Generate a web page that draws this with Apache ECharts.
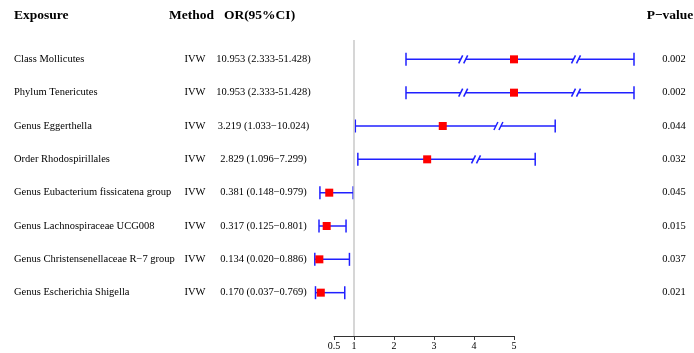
<!DOCTYPE html>
<html>
<head>
<meta charset="utf-8">
<script src="https://cdn.jsdelivr.net/npm/echarts@6/dist/echarts.min.js"></script>
<style>
  html, body { margin: 0; padding: 0; background: #fff; }
  #chart { width: 694px; height: 353px; }
</style>
</head>
<body>
<div id="chart"></div>
<script>
// 表格内容
const exposures = [
  'Class Mollicutes',
  'Phylum Tenericutes',
  'Genus Eggerthella',
  'Order Rhodospirillales',
  'Genus Eubacterium fissicatena group',
  'Genus Lachnospiraceae UCG008',
  'Genus Christensenellaceae R\u22127 group',
  'Genus Escherichia Shigella'
]
const methods = ['IVW', 'IVW', 'IVW', 'IVW', 'IVW', 'IVW', 'IVW', 'IVW']
const orLabels = [
  '10.953 (2.333-51.428)',
  '10.953 (2.333-51.428)',
  '3.219 (1.033\u221210.024)',
  '2.829 (1.096\u22127.299)',
  '0.381 (0.148\u22120.979)',
  '0.317 (0.125\u22120.801)',
  '0.134 (0.020\u22120.886)',
  '0.170 (0.037\u22120.769)'
]
const pValues = ['0.002', '0.002', '0.044', '0.032', '0.045', '0.015', '0.037', '0.021']

// 图上位置（截断轴，大值被压缩）
const orPlot = [5, 5, 3.219, 2.829, 0.381, 0.317, 0.134, 0.170]
const lowerPlot = [2.3, 2.3, 1.033, 1.096, 0.148, 0.125, 0.020, 0.037]
const upperPlot = [8.0, 8.0, 6.03, 5.53, 0.979, 0.801, 0.886, 0.769]
const breakPlot = [[3.73, 6.55], [3.73, 6.55], [4.61], [4.05], [], [], [], []]
const tickValues = [0.5, 1, 2, 3, 4, 5]

const headers = ['Exposure', 'Method', 'OR(95%CI)', 'P\u2212value']

const FONT = '"Liberation Serif", "Times New Roman", serif'
const rows = exposures.map((_, i) => i + 1)

const chart = echarts.init(document.getElementById('chart'))

const yRange = { min: -0.78, max: 9.3 }

// 文字列：x 为表格坐标
const textColumns = [
  { x: 14, align: 'left', values: exposures },
  { x: 195, align: 'center', values: methods },
  { x: 263.5, align: 'center', values: orLabels },
  { x: 674, align: 'center', values: pValues }
]
const headerCols = [
  { x: 14, align: 'left' },
  { x: 191.5, align: 'center' },
  { x: 259.5, align: 'center' },
  { x: 670, align: 'center' }
]

const textData = []
textColumns.forEach(col => {
  col.values.forEach((v, i) => {
    textData.push({ value: [col.x, rows[i]], text: v, align: col.align, bold: false })
  })
})
headers.forEach((h, i) => {
  textData.push({ value: [headerCols[i].x, -0.3], text: h, align: headerCols[i].align, bold: true })
})

const ciData = rows.map((r, i) => [r, lowerPlot[i], orPlot[i], upperPlot[i]])

const option = {
  animation: false,
  grid: [
    { left: 334, right: 180, top: 0, bottom: 17 },
    { left: 0, right: 0, top: 0, bottom: 17 }
  ],
  xAxis: [
    {
      gridIndex: 0,
      type: 'value',
      min: 0.5,
      max: 5,
      axisLine: { show: true, onZero: false, lineStyle: { color: '#333', width: 1 } },
      axisTick: { show: true, length: 4, customValues: tickValues, lineStyle: { color: '#333' } },
      axisLabel: {
        customValues: tickValues,
        margin: 5,
        color: '#000',
        fontSize: 10,
        fontFamily: FONT,
        formatter: v => String(v)
      },
      splitLine: { show: false }
    },
    { gridIndex: 1, type: 'value', min: 0, max: 694, show: false }
  ],
  yAxis: [
    { gridIndex: 0, type: 'value', inverse: true, min: yRange.min, max: yRange.max, show: false },
    { gridIndex: 1, type: 'value', inverse: true, min: yRange.min, max: yRange.max, show: false }
  ],
  series: [
    {
      // 参考线 OR = 1
      type: 'line',
      xAxisIndex: 0,
      yAxisIndex: 0,
      data: [[1, 0.42], [1, 9.3]],
      symbol: 'none',
      lineStyle: { color: '#c8c8c8', width: 1.5 },
      silent: true
    },
    {
      type: 'custom',
      xAxisIndex: 0,
      yAxisIndex: 0,
      clip: false,
      data: ciData,
      renderItem: (params, api) => {
        const row = api.value(0)
        const lo = api.coord([api.value(1), row])
        const est = api.coord([api.value(2), row])
        const hi = api.coord([api.value(3), row])
        const y = lo[1]
        const stroke = { stroke: '#2020ff', lineWidth: 1.5 }
        const children = []
        const breaks = breakPlot[params.dataIndex].map(b => api.coord([b, row])[0])
        // 水平线分段（断点处留空）
        let start = lo[0]
        breaks.forEach(bx => {
          children.push({ type: 'line', shape: { x1: start, y1: y, x2: bx - 2.5, y2: y }, style: stroke })
          children.push({ type: 'line', shape: { x1: bx - 4.5, y1: y + 4, x2: bx - 0.5, y2: y - 4 }, style: stroke })
          children.push({ type: 'line', shape: { x1: bx + 0.5, y1: y + 4, x2: bx + 4.5, y2: y - 4 }, style: stroke })
          start = bx + 2.5
        })
        children.push({ type: 'line', shape: { x1: start, y1: y, x2: hi[0], y2: y }, style: stroke })
        // 端帽
        children.push({ type: 'line', shape: { x1: lo[0], y1: y - 6.5, x2: lo[0], y2: y + 6.5 }, style: stroke })
        children.push({ type: 'line', shape: { x1: hi[0], y1: y - 6.5, x2: hi[0], y2: y + 6.5 }, style: stroke })
        // 点估计
        children.push({ type: 'rect', shape: { x: est[0] - 4, y: y - 4, width: 8, height: 8 }, style: { fill: '#ff0000' } })
        return { type: 'group', children }
      }
    },
    {
      type: 'custom',
      xAxisIndex: 1,
      yAxisIndex: 1,
      clip: false,
      data: textData,
      renderItem: (params, api) => {
        const item = textData[params.dataIndex]
        const p = api.coord([api.value(0), api.value(1)])
        return {
          type: 'text',
          x: p[0],
          y: p[1],
          style: {
            text: item.text,
            textAlign: item.align,
            textVerticalAlign: 'middle',
            fill: '#000',
            font: (item.bold ? 'bold 13.5px ' : '10.5px ') + FONT
          }
        }
      }
    }
  ]
}

chart.setOption(option)
window.addEventListener('resize', () => chart.resize())
</script>
</body>
</html>
